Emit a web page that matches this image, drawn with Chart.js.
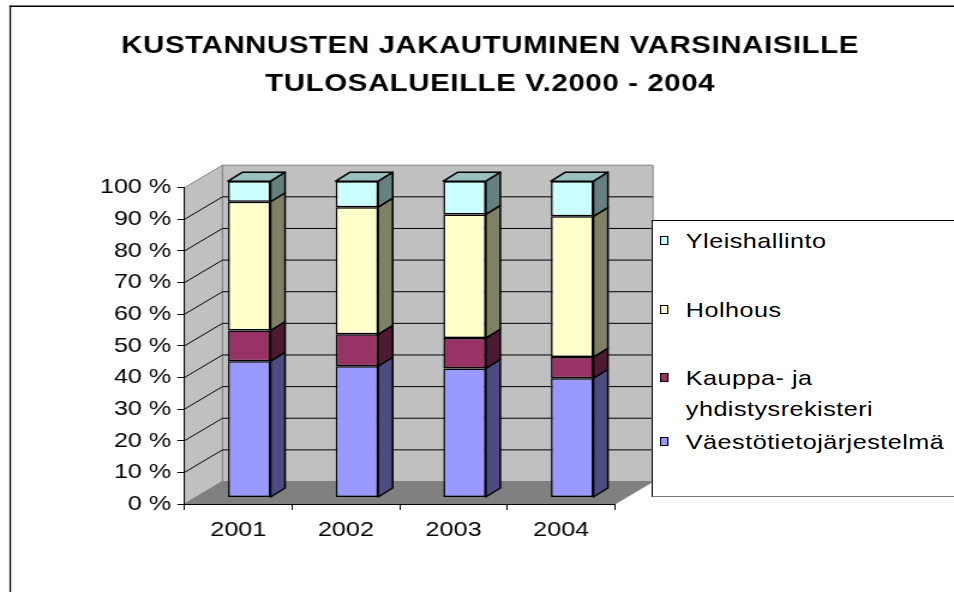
<!DOCTYPE html>
<html>
<head>
<meta charset="utf-8">
<script src="https://cdn.jsdelivr.net/npm/chart.js@4.4.1/dist/chart.umd.min.js"></script>
<style>
  html, body { margin: 0; padding: 0; background: #fff; overflow: hidden; }
  #wrap { position: absolute; left: 0; top: 0; width: 795px; height: 592px;
          transform: scaleX(1.2); transform-origin: 0 0; }
  #c { position: absolute; left: 0; top: 0; }
  #legend { position: absolute; left: 542.5px; top: 220px; width: 320px; height: 275px;
            background: #fff; border-left: 1px solid #000; border-top: 1px solid #000;
            border-bottom: 1.5px solid #777; font-family: 'Liberation Sans', Arial, sans-serif;
            font-size: 21px; color: #000; letter-spacing: 0.4px; }
  .item { position: absolute; left: 0; width: 320px; line-height: 31px; }
  .mk { position: absolute; left: 6px; width: 7.5px; height: 9px; box-sizing: border-box;
        border: 1px solid #000; }
  .tx { position: absolute; left: 28px; white-space: pre; }
</style>
</head>
<body>
<div id="wrap">
  <canvas id="c" width="795" height="592"></canvas>
  <div id="legend"></div>
</div>
<script>
// ---- data ----
const categories = ['2001', '2002', '2003', '2004'];
const seriesNames = ['Väestötietojärjestelmä', 'Kauppa- ja yhdistysrekisteri', 'Holhous', 'Yleishallinto'];
const legendTexts = ['Väestötietojärjestelmä', 'Kauppa- ja\nyhdistysrekisteri', 'Holhous', 'Yleishallinto'];
const vaestotieto = [43.1, 41.5, 40.8, 37.7];
const kauppa = [9.7, 10.1, 9.6, 6.7];
const holhous = [40.7, 40.2, 39.1, 44.5];
const yleishallinto = [6.5, 8.2, 10.5, 11.1];
const titleLines = ['KUSTANNUSTEN JAKAUTUMINEN VARSINAISILLE', 'TULOSALUEILLE V.2000 - 2004'];

// ---- styles ----
const frontColors = ['#9999FF', '#993366', '#FFFFCC', '#CCFFFF'];
const sideColors = ['#4C4C80', '#4D1A33', '#808066', '#668080'];
const topColors = ['#7373BF', '#73264D', '#BFBF99', '#99BFBF'];

const S = 1.2;
const DX = 38 / S, DY = -22.5;     // wall depth
const BX = 11 / S, BY = -6.5;      // bar offset into depth
const BDX = 14.5 / S, BDY = -9;    // bar depth

const FONT = "'Liberation Sans', Arial, sans-serif";

const threeD = {
  id: 'threeD',
  beforeDraw(chart) {
    const { ctx, chartArea: a, scales: { y } } = chart;
    ctx.save();
    // outer frame
    ctx.fillStyle = '#000';
    ctx.fillRect(7.9, 5.5, 800, 1.5);
    ctx.fillRect(7.9, 5.5, 1.3, 600);
    // title
    ctx.fillStyle = '#000';
    ctx.font = 'bold 24.5px ' + FONT;
    ctx.textAlign = 'center';
    ctx.textBaseline = 'middle';
    try { ctx.letterSpacing = '0.5px'; } catch (e) {}
    ctx.fillText(titleLines[0], 408.5, 46);
    ctx.fillText(titleLines[1], 408.5, 84);
    try { ctx.letterSpacing = '0px'; } catch (e) {}
    // side wall
    ctx.lineWidth = 1;
    ctx.fillStyle = '#C0C0C0';
    ctx.strokeStyle = '#808080';
    ctx.beginPath();
    ctx.moveTo(a.left, a.bottom); ctx.lineTo(a.left, a.top);
    ctx.lineTo(a.left + DX, a.top + DY); ctx.lineTo(a.left + DX, a.bottom + DY);
    ctx.closePath(); ctx.fill(); ctx.stroke();
    // back wall
    ctx.beginPath();
    ctx.rect(a.left + DX, a.top + DY, a.right - a.left, a.bottom - a.top);
    ctx.fill(); ctx.stroke();
    // floor
    ctx.fillStyle = '#808080';
    ctx.beginPath();
    ctx.moveTo(a.left, a.bottom); ctx.lineTo(a.right, a.bottom);
    ctx.lineTo(a.right + DX, a.bottom + DY); ctx.lineTo(a.left + DX, a.bottom + DY);
    ctx.closePath(); ctx.fill(); ctx.stroke();
    // gridlines
    ctx.strokeStyle = '#000';
    y.ticks.forEach(t => {
      if (t.value <= 0 || t.value >= 100) return;
      const py = y.getPixelForValue(t.value);
      ctx.beginPath();
      ctx.moveTo(a.left, py);
      ctx.lineTo(a.left + DX, py + DY);
      ctx.lineTo(a.right + DX, py + DY);
      ctx.stroke();
    });
    ctx.restore();
  },
  beforeDatasetsDraw(chart) {
    chart.ctx.save();
    chart.ctx.translate(BX, BY);
  },
  afterDatasetsDraw(chart) {
    const ctx = chart.ctx;
    const n = chart.data.datasets.length;
    ctx.lineWidth = 1.5;
    ctx.strokeStyle = '#000';
    ctx.lineJoin = 'round';
    for (let i = 0; i < chart.data.labels.length; i++) {
      for (let d = 0; d < n; d++) {
        const el = chart.getDatasetMeta(d).data[i];
        const p = el.getProps(['x', 'y', 'base', 'width'], true);
        const l = p.x - p.width / 2, r = p.x + p.width / 2;
        const t = Math.min(p.y, p.base), b = Math.max(p.y, p.base);
        ctx.fillStyle = sideColors[d];
        ctx.beginPath();
        ctx.moveTo(r, t); ctx.lineTo(r + BDX, t + BDY);
        ctx.lineTo(r + BDX, b + BDY); ctx.lineTo(r, b);
        ctx.closePath(); ctx.fill(); ctx.stroke();
        if (d === n - 1) {
          ctx.fillStyle = topColors[d];
          ctx.beginPath();
          ctx.moveTo(l, t); ctx.lineTo(l + BDX, t + BDY);
          ctx.lineTo(r + BDX, t + BDY); ctx.lineTo(r, t);
          ctx.closePath(); ctx.fill(); ctx.stroke();
        }
      }
    }
    ctx.restore();
  }
};

const seriesData = [vaestotieto, kauppa, holhous, yleishallinto];
const datasets = seriesData.map((arr, i) => ({
  label: seriesNames[i],
  data: arr,
  backgroundColor: frontColors[i],
  borderColor: '#000',
  borderWidth: 1.5,
  borderSkipped: false,
  barPercentage: 0.395,
  categoryPercentage: 1,
  clip: false
}));

new Chart(document.getElementById('c'), {
  type: 'bar',
  data: { labels: categories, datasets },
  plugins: [threeD],
  options: {
    responsive: false,
    animation: false,
    events: [],
    layout: { padding: { left: 0, right: 795 - 512.5, top: 187.7, bottom: 0 } },
    plugins: { legend: { display: false }, title: { display: false }, tooltip: { enabled: false } },
    scales: {
      x: {
        stacked: true,
        afterFit: s => { s.height = 88; },
        grid: { display: true, drawOnChartArea: false, drawTicks: true, tickLength: 6, color: '#000', lineWidth: 1 },
        border: { display: true, color: '#000', width: 1 },
        ticks: { color: '#000', font: { family: FONT, size: 21 }, padding: 8, maxRotation: 0 }
      },
      y: {
        stacked: true,
        min: 0, max: 100,
        afterFit: s => { s.width = 153.75; },
        grid: { display: true, drawOnChartArea: false, drawTicks: true, tickLength: 6, color: '#000', lineWidth: 1 },
        border: { display: true, color: '#000', width: 1 },
        ticks: { stepSize: 10, color: '#000', font: { family: FONT, size: 21 }, padding: 5,
                 callback: v => v + ' %' }
      }
    }
  }
});

// HTML legend (top to bottom as in the picture)
const legendCenters = [20.5, 89, 157.5, 221.5];
const legendEl = document.getElementById('legend');
const order = [3, 2, 1, 0];
order.forEach((si, k) => {
  const c = legendCenters[k];
  const item = document.createElement('div');
  item.className = 'item';
  item.style.top = (c - 15.5 - 1) + 'px';
  const mk = document.createElement('div');
  mk.className = 'mk';
  mk.style.top = '11px';
  mk.style.background = frontColors[si];
  const tx = document.createElement('div');
  tx.className = 'tx';
  tx.style.top = '0px';
  tx.textContent = legendTexts[si];
  item.appendChild(mk); item.appendChild(tx);
  legendEl.appendChild(item);
});
</script>
</body>
</html>
